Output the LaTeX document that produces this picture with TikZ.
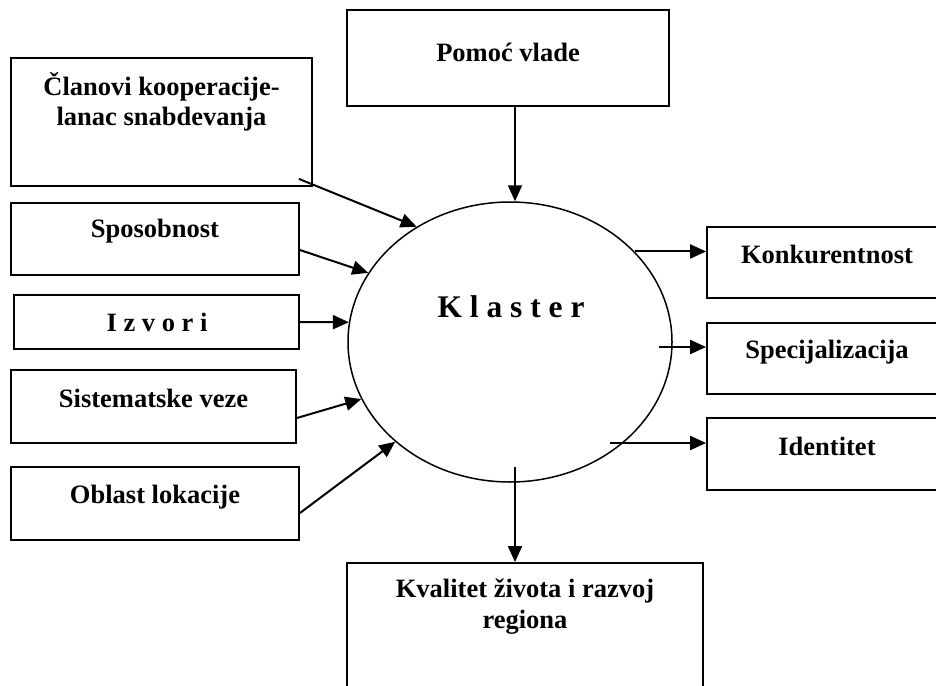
\documentclass[tikz,border=0pt]{standalone}
\usepackage{fontspec}
\setmainfont{Liberation Serif}
\usetikzlibrary{arrows.meta,shapes.geometric}

\begin{document}
\begin{tikzpicture}[x=1pt,y=-1pt,
  box/.style={draw,line width=1.8pt,rectangle,inner sep=0pt},
  lbl/.style={font=\bfseries\fontsize{26.5}{30.5}\selectfont,inner sep=0pt,align=center},
  core/.style={draw,line width=1.5pt,ellipse,inner sep=0pt},
  link/.style={line width=2pt,-{Triangle[length=16pt,width=14pt]}}]

\useasboundingbox (0,0) rectangle (936,685);
\clip (0,0) rectangle (936,685);

% central cluster
\node[core,minimum width=324pt,minimum height=280pt] (klaster) at (510,342) {};
\node[font=\bfseries\fontsize{31.5}{34}\selectfont,inner sep=0pt,anchor=base] (klasterT) at (511,317) {K l a s t e r};

% input boxes
\node[box,minimum width=322pt,minimum height=96pt]  (pomoc) at (508,58) {};
\node[box,minimum width=301pt,minimum height=128pt] (clan)  at (161.5,122) {};
\node[box,minimum width=288pt,minimum height=72pt]  (spos)  at (155,239) {};
\node[box,minimum width=285pt,minimum height=54pt]  (izv)   at (156.5,322) {};
\node[box,minimum width=285pt,minimum height=73pt]  (sist)  at (153.5,406.5) {};
\node[box,minimum width=288pt,minimum height=73pt]  (obl)   at (155,503.5) {};

% output boxes
\node[box,minimum width=240pt,minimum height=71pt]  (kon)   at (827,262.5) {};
\node[box,minimum width=240pt,minimum height=71pt]  (spec)  at (827,358.5) {};
\node[box,minimum width=240pt,minimum height=72pt]  (ident) at (827,454) {};
\node[box,minimum width=356pt,minimum height=157pt] (kval)  at (525,641.5) {};

% box labels
\node[lbl,anchor=base] (pomocT) at (508,62)  {Pomoć vlade};
\node[lbl,anchor=base] (clanT1) at (161.5,95) {Članovi kooperacije-};
\node[lbl,anchor=base] (clanT2) at (161.5,125) {lanac snabdevanja};
\node[lbl,anchor=base] (sposT)  at (155,237) {Sposobnost};
\node[lbl,anchor=base] (izvT)   at (157,331) {I z v o r i};
\node[lbl,anchor=base] (sistT)  at (153.5,407) {Sistematske veze};
\node[lbl,anchor=base] (oblT)   at (155,503) {Oblast lokacije};
\node[lbl,anchor=base] (konT)   at (827,263) {Konkurentnost};
\node[lbl,anchor=base] (specT)  at (827,358) {Specijalizacija};
\node[lbl,anchor=base] (identT) at (827,455) {Identitet};
\node[lbl,anchor=base] (kvalT1) at (525,597) {Kvalitet života i razvoj};
\node[lbl,anchor=base] (kvalT2) at (525,628) {regiona};

% start points of the connectors
\coordinate (pomocS) at ([xshift=7pt]pomoc.south);
\coordinate (clanS)  at ([xshift=-14pt,yshift=8pt]clan.south east);
\coordinate (sposS)  at ([yshift=-11pt]spos.east);
\coordinate (sistS)  at ([yshift=-11.5pt]sist.east);
\coordinate (oblS)   at ([yshift=-9.5pt]obl.east);
\coordinate (specS)  at ([xshift=-14pt,yshift=-5pt]klaster.east);
\coordinate (identS) at ([shift={(100pt,-101pt)}]klaster.center);
\coordinate (kvalS)  at ([shift={(5pt,-125pt)}]klaster.center);

% arrows into the cluster
\draw[link] (pomocS) -- (pomocS |- klaster.north);
\draw[link] (clanS) -- (klaster.129);
\draw[link] (sposS) -- (klaster.154.6);
\draw[link] (izv.east) -- (klaster.173);
\draw[link] (sistS) -- (klaster.201);
\draw[link] (oblS) -- (klaster.221.3);

% arrows out of the cluster
\draw[link] (klaster.36.5) -- (klaster.36.5 -| kon.west);
\draw[link] (specS) -- (specS -| spec.west);
\draw[link] (identS) -- (identS -| ident.west);
\draw[link] (kvalS) -- (kvalS |- kval.north);
\end{tikzpicture}
\end{document}
